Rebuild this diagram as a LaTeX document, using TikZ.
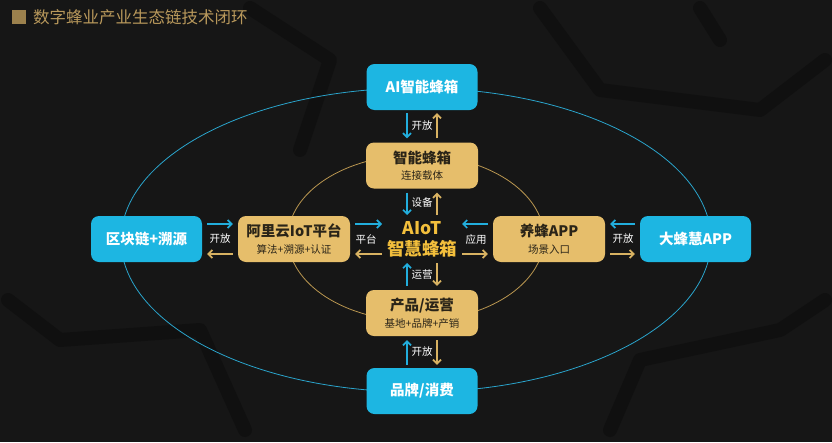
\documentclass[tikz,border=0pt]{standalone}
\usepackage{fontspec}
\setmainfont{Noto Sans CJK SC}
\usetikzlibrary{arrows.meta,calc}
\definecolor{bg}{HTML}{161616}
\definecolor{bgdark}{HTML}{101010}
\definecolor{cyanbox}{HTML}{1DB6E2}
\definecolor{goldbox}{HTML}{E6BE6B}
\definecolor{goldarr}{HTML}{D8B262}
\definecolor{cyanarr}{HTML}{22AEDD}
\definecolor{ringc}{HTML}{2AA4CC}
\definecolor{ringg}{HTML}{B99650}
\definecolor{centerc}{HTML}{F3BF3C}
\definecolor{titlec}{HTML}{B8985B}
\definecolor{darktext}{HTML}{2A2418}
\tikzset{
  cbox/.style={draw=none,fill=cyanbox,rounded corners=8pt,minimum width=111pt,minimum height=46pt,
    text=white,font=\bfseries\fontsize{14.5}{16}\selectfont,align=center,inner sep=0pt},
  gbox/.style={draw=none,fill=goldbox,rounded corners=8pt,minimum width=112pt,minimum height=46pt,
    text=darktext,align=center,inner sep=0pt},
  carr/.style={draw=cyanarr,line width=1.7pt,-{Straight Barb[length=4pt,width=8pt]}},
  garr/.style={draw=goldarr,line width=1.7pt,-{Straight Barb[length=4pt,width=8pt]}},
  lbl/.style={text=white,font=\fontsize{10.5}{12}\selectfont,inner sep=0pt},
}
\newcommand{\gt}[2]{{\bfseries\fontsize{14.5}{16}\selectfont #1}\\[4.5pt]{\fontsize{10.5}{11}\selectfont #2}}
\begin{document}
\begin{tikzpicture}[x=1pt,y=-1pt]
\fill[bg] (0,0) rectangle (832,442);
\useasboundingbox (0,0) rectangle (832,442);
% subtle background texture
\begin{scope}[draw=bgdark,line width=14pt,line cap=round,line join=round]
\draw (250,8) -- (330,60) -- (300,150);
\draw (540,8) -- (600,90) -- (760,110) -- (825,60);
\draw (8,300) -- (60,340) -- (200,330) -- (245,430);
\draw (610,430) -- (640,360) -- (780,330) -- (825,300);
\draw (700,8) -- (720,40);
\end{scope}
% title
\fill[titlec!85!black] (12,10) rectangle (26,24);
\node[anchor=west,text=titlec,font=\fontsize{16.5}{18}\selectfont,inner sep=0pt] (title) at (33,17) {数字蜂业产业生态链技术闭环};
% rings
\draw[ringc,line width=0.8pt] (416,240) ellipse [x radius=295, y radius=152];
\draw[ringg,line width=0.8pt] (416,238) ellipse [x radius=128, y radius=83];
% boxes
\node[cbox] (ai) at (422,87) {AI智能蜂箱};
\node[gbox] (zn) at (422,165.5) {\gt{智能蜂箱}{连接载体}};
\node[cbox] (qk) at (146.5,239) {区块链+溯源};
\node[gbox] (al) at (294,239) {\gt{阿里云IoT平台}{算法+溯源+认证}};
\node[gbox] (yf) at (549,239) {\gt{养蜂APP}{场景入口}};
\node[cbox] (df) at (695.5,239) {大蜂慧APP};
\node[gbox] (cp) at (422,313) {\gt{产品/运营}{基地+品牌+产销}};
\node[cbox] (pp) at (422,391) {品牌/消费};
% center
\node[text=centerc,align=center,inner sep=0pt,font=\bfseries\fontsize{17.5}{21}\selectfont] (ct) at (422,239) {AIoT\\智慧蜂箱};
% vertical arrows
\draw[carr] ($(ai.south)+(-15,3)$) -- ($(zn.north)+(-15,-4)$);
\draw[garr] ($(zn.north)+(15,-4)$) -- ($(ai.south)+(15,3)$);
\node[lbl] at (422,126) {开放};
\draw[carr] ($(zn.south)+(-15,4)$) -- ($(ct.center)+(-15,-24)$);
\draw[garr] ($(ct.center)+(15,-24)$) -- ($(zn.south)+(15,4)$);
\node[lbl] at (422,203) {设备};
\draw[carr] ($(cp.north)+(-15,-4)$) -- ($(ct.center)+(-15,24)$);
\draw[garr] ($(ct.center)+(15,24)$) -- ($(cp.north)+(15,-4)$);
\node[lbl] at (422,275) {运营};
\draw[carr] ($(pp.north)+(-15,-3)$) -- ($(cp.south)+(-15,4)$);
\draw[garr] ($(cp.south)+(15,4)$) -- ($(pp.north)+(15,-3)$);
\node[lbl] at (422,352) {开放};
% horizontal arrows
\draw[carr] ($(qk.east)+(5,-15)$) -- ($(al.west)+(-5,-15)$);
\draw[garr] ($(al.west)+(-5,15)$) -- ($(qk.east)+(5,15)$);
\node[lbl] at (220,239) {开放};
\draw[carr] ($(al.east)+(5,-15)$) -- ($(ct.center)+(-40,-15)$);
\draw[garr] ($(ct.center)+(-40,15)$) -- ($(al.east)+(5,15)$);
\node[lbl] at (366,239) {平台};
\draw[carr] ($(yf.west)+(-5,-15)$) -- ($(ct.center)+(40,-15)$);
\draw[garr] ($(ct.center)+(40,15)$) -- ($(yf.west)+(-5,15)$);
\node[lbl] at (476,239) {应用};
\draw[carr] ($(df.west)+(-5,-15)$) -- ($(yf.east)+(5,-15)$);
\draw[garr] ($(yf.east)+(5,15)$) -- ($(df.west)+(-5,15)$);
\node[lbl] at (623,239) {开放};
\end{tikzpicture}
\end{document}
